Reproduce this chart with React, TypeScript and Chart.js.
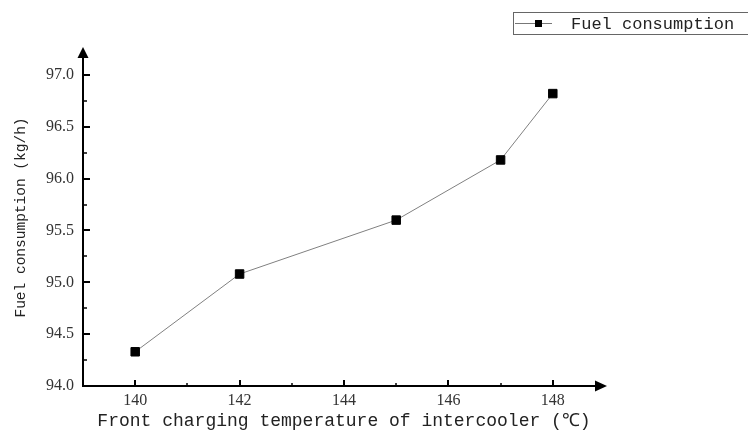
import React, { useEffect, useRef } from "react";
import { Chart, registerables } from "chart.js";

Chart.register(...registerables);

const temperatures = [140, 142, 145, 147, 148];
const fuelConsumption = [94.33, 95.08, 95.6, 96.18, 96.82];
const xTickValues = [140, 142, 144, 146, 148];
const xMinorTickValues = [141, 143, 145, 147];
const yTickValues = [94.0, 94.5, 95.0, 95.5, 96.0, 96.5, 97.0];
const yMinorTickValues = [94.25, 94.75, 95.25, 95.75, 96.25, 96.75];
const seriesName = "Fuel consumption";
const xTitle = "Front charging temperature of intercooler (\u2103)";
const yTitle = "Fuel consumption (kg/h)";

const MONO = "'Liberation Mono', 'DejaVu Sans Mono', monospace";
const SERIF = "'Liberation Serif', 'DejaVu Serif', serif";

const axesPlugin = {
  id: "arrowAxes",
  beforeDatasetsDraw(chart: any) {
    const { ctx, chartArea, scales } = chart;
    const x = scales.x;
    const y = scales.y;
    const left = chartArea.left;
    const bottom = chartArea.bottom;
    ctx.save();
    ctx.strokeStyle = "#000";
    ctx.fillStyle = "#000";
    ctx.lineWidth = 2;
    // y axis
    ctx.beginPath();
    ctx.moveTo(left, bottom + 1);
    ctx.lineTo(left, chartArea.top + 8);
    ctx.stroke();
    ctx.beginPath();
    ctx.moveTo(left, chartArea.top - 2);
    ctx.lineTo(left - 5.5, chartArea.top + 9);
    ctx.lineTo(left + 5.5, chartArea.top + 9);
    ctx.closePath();
    ctx.fill();
    // x axis
    ctx.beginPath();
    ctx.moveTo(left - 1, bottom);
    ctx.lineTo(chartArea.right - 8, bottom);
    ctx.stroke();
    ctx.beginPath();
    ctx.moveTo(chartArea.right + 2, bottom);
    ctx.lineTo(chartArea.right - 10, bottom - 5.5);
    ctx.lineTo(chartArea.right - 10, bottom + 5.5);
    ctx.closePath();
    ctx.fill();
    // y ticks (inward)
    ctx.lineWidth = 2;
    yTickValues.forEach((v) => {
      const py = Math.round(y.getPixelForValue(v));
      if (v === yTickValues[0]) return;
      ctx.beginPath();
      ctx.moveTo(left, py);
      ctx.lineTo(left + 7, py);
      ctx.stroke();
    });
    ctx.lineWidth = 1.5;
    yMinorTickValues.forEach((v) => {
      const py = Math.round(y.getPixelForValue(v));
      ctx.beginPath();
      ctx.moveTo(left, py);
      ctx.lineTo(left + 4, py);
      ctx.stroke();
    });
    // x ticks (inward)
    ctx.lineWidth = 2;
    xTickValues.forEach((v) => {
      const px = Math.round(x.getPixelForValue(v));
      ctx.beginPath();
      ctx.moveTo(px, bottom);
      ctx.lineTo(px, bottom - 6);
      ctx.stroke();
    });
    ctx.lineWidth = 1.5;
    xMinorTickValues.forEach((v) => {
      const px = Math.round(x.getPixelForValue(v));
      ctx.beginPath();
      ctx.moveTo(px, bottom);
      ctx.lineTo(px, bottom - 3);
      ctx.stroke();
    });
    ctx.restore();
  },
  afterDraw(chart: any) {
    const { ctx } = chart;
    ctx.save();
    // legend box
    ctx.strokeStyle = "#666";
    ctx.lineWidth = 1;
    ctx.strokeRect(513.5, 12.5, 260, 22);
    ctx.strokeStyle = "#777";
    ctx.beginPath();
    ctx.moveTo(515, 23.5);
    ctx.lineTo(552, 23.5);
    ctx.stroke();
    ctx.fillStyle = "#000";
    ctx.fillRect(535, 20, 7, 7);
    ctx.font = `17px ${MONO}`;
    ctx.textBaseline = "middle";
    ctx.textAlign = "left";
    ctx.fillStyle = "#222";
    ctx.fillText(seriesName, 571, 24);
    ctx.restore();
  },
};

export default function App() {
  const canvasRef = useRef<HTMLCanvasElement | null>(null);

  useEffect(() => {
    const canvas = canvasRef.current;
    if (!canvas) return;
    const chart = new Chart(canvas, {
      type: "line",
      data: {
        datasets: [
          {
            label: seriesName,
            data: temperatures.map((t, i) => ({ x: t, y: fuelConsumption[i] })),
            borderColor: "#808080",
            borderWidth: 1,
            pointStyle: "rect",
            pointRadius: 6,
            pointBackgroundColor: "#000",
            pointBorderColor: "#000",
            pointBorderWidth: 1,
            tension: 0,
          },
        ],
      },
      options: {
        responsive: false,
        animation: false,
        events: [],
        layout: { padding: { top: 49, right: 143, left: 0, bottom: 0 } },
        plugins: {
          legend: { display: false },
          tooltip: { enabled: false },
          title: { display: false },
        },
        scales: {
          x: {
            type: "linear",
            min: 139,
            max: 149,
            grid: { display: false, drawTicks: false },
            border: { display: false },
            afterBuildTicks: (scale: any) => {
              scale.ticks = xTickValues.map((v) => ({ value: v }));
            },
            afterFit: (scale: any) => {
              scale.height = 46;
            },
            ticks: {
              padding: 5,
              color: "#333",
              font: { family: SERIF, size: 16 },
              callback: (v: any) => String(v),
            },
            title: {
              display: true,
              text: xTitle,
              color: "#222",
              font: { family: MONO, size: 18 },
              padding: { top: 0, bottom: 0 },
            },
          },
          y: {
            type: "linear",
            min: 94,
            max: 97.25,
            grid: { display: false, drawTicks: false },
            border: { display: false },
            afterBuildTicks: (scale: any) => {
              scale.ticks = yTickValues.map((v) => ({ value: v }));
            },
            afterFit: (scale: any) => {
              scale.width = 83;
            },
            ticks: {
              padding: 9,
              color: "#333",
              font: { family: SERIF, size: 16 },
              callback: (v: any) => Number(v).toFixed(1),
            },
            title: {
              display: true,
              text: yTitle,
              color: "#222",
              font: { family: MONO, size: 14.5 },
              padding: { top: 12, bottom: 0 },
            },
          },
        },
      },
      plugins: [axesPlugin],
    });
    return () => chart.destroy();
  }, []);

  return (
    <div style={{ position: "absolute", left: 0, top: 0, width: 748, height: 432, background: "#fff" }}>
      <canvas ref={canvasRef} width={748} height={432} style={{ display: "block" }} />
    </div>
  );
}
